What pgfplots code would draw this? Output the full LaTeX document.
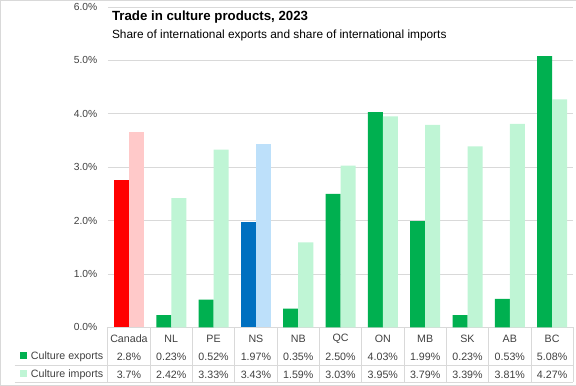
\documentclass[border=0pt]{standalone}
\usepackage{pgfplots}
\pgfplotsset{compat=1.18}
\usepackage{fontspec}
\setmainfont{Liberation Sans}
\definecolor{grn}{HTML}{00B050}
\definecolor{lgrn}{HTML}{BFF5D5}
\definecolor{pnk}{HTML}{FFC9C9}
\definecolor{redb}{HTML}{FF0000}
\definecolor{blu}{HTML}{0070C0}
\definecolor{lblu}{HTML}{BDE0FA}
\definecolor{gridc}{HTML}{D9D9D9}
\definecolor{txt}{HTML}{404040}
\begin{document}
\begin{tikzpicture}[x=1bp,y=1bp]
\draw[gridc] (0.5,0.5) rectangle (575.5,384.5);
\begin{axis}[at={(108bp,58bp)}, anchor=south west, scale only axis,
  width=465bp, height=320bp, xmin=-0.5, xmax=10.5, ymin=0, ymax=6,
  axis line style={draw=none}, ytick={0,1,...,6}, xtick=\empty,
  ymajorgrids, grid style={gridc, line width=0.8pt}, major tick length=0pt,
  /pgf/number format/assume math mode=true,
  yticklabel={\pgfmathprintnumber[fixed,fixed zerofill,precision=1]{\tick}\%},
  yticklabel style={font=\fontsize{10.3}{12}\selectfont, text=txt, xshift=-7bp},
  clip=false]
\addplot[ybar, bar width=15bp, bar shift=-7.5bp, fill=grn, draw=none]
  coordinates {(1,0.23) (2,0.52) (4,0.35) (5,2.50) (6,4.03) (7,1.99) (8,0.23) (9,0.53) (10,5.08)};
\addplot[ybar, bar width=15bp, bar shift=7.5bp, fill=lgrn, draw=none]
  coordinates {(1,2.42) (2,3.33) (4,1.59) (5,3.03) (6,3.95) (7,3.79) (8,3.39) (9,3.81) (10,4.27)};
\addplot[ybar, bar width=15bp, bar shift=-7.5bp, fill=redb, draw=none]
  coordinates {(0,2.76)};
\addplot[ybar, bar width=15bp, bar shift=7.5bp, fill=pnk, draw=none]
  coordinates {(0,3.66)};
\addplot[ybar, bar width=15bp, bar shift=-7.5bp, fill=blu, draw=none]
  coordinates {(3,1.97)};
\addplot[ybar, bar width=15bp, bar shift=7.5bp, fill=lblu, draw=none]
  coordinates {(3,3.43)};
\end{axis}
\node[anchor=west, font=\bfseries\fontsize{13.3}{16}\selectfont, inner sep=0pt] at (112,368) {Trade in culture products, 2023};
\node[anchor=west, font=\fontsize{11.9}{14}\selectfont, inner sep=0pt] at (112,350) {Share of international exports and share of international imports};
% data table
\draw[gridc, line width=0.8pt] (15,19.5) -- (573,19.5);
\draw[gridc, line width=0.8pt] (15,3) -- (573,3);
\foreach \k in {0,...,11} {
  \draw[gridc, line width=0.8pt] ({108+\k*42.27},58) -- ({108+\k*42.27},3);
}
\foreach \n [count=\i from 0] in {Canada,NL,PE,NS,NB,QC,ON,MB,SK,AB,BC} {
  \node[font=\fontsize{10.7}{12}\selectfont, text=txt] at ({108+(\i+0.5)*42.27},46.5) {\n};
}
\foreach \n [count=\i from 0] in {2.8\%,0.23\%,0.52\%,1.97\%,0.35\%,2.50\%,4.03\%,1.99\%,0.23\%,0.53\%,5.08\%} {
  \node[font=\fontsize{10.7}{12}\selectfont, text=txt] at ({108+(\i+0.5)*42.27},29) {\n};
}
\foreach \n [count=\i from 0] in {3.7\%,2.42\%,3.33\%,3.43\%,1.59\%,3.03\%,3.95\%,3.79\%,3.39\%,3.81\%,4.27\%} {
  \node[font=\fontsize{10.7}{12}\selectfont, text=txt] at ({108+(\i+0.5)*42.27},11) {\n};
}
\fill[grn] (20,26) rectangle (27,33);
\fill[lgrn] (20,8) rectangle (27,15);
\node[anchor=west, font=\fontsize{10.7}{12}\selectfont, text=txt, inner sep=0pt] at (31,29) {Culture exports};
\node[anchor=west, font=\fontsize{10.7}{12}\selectfont, text=txt, inner sep=0pt] at (31,11) {Culture imports};
\end{tikzpicture}
\end{document}
